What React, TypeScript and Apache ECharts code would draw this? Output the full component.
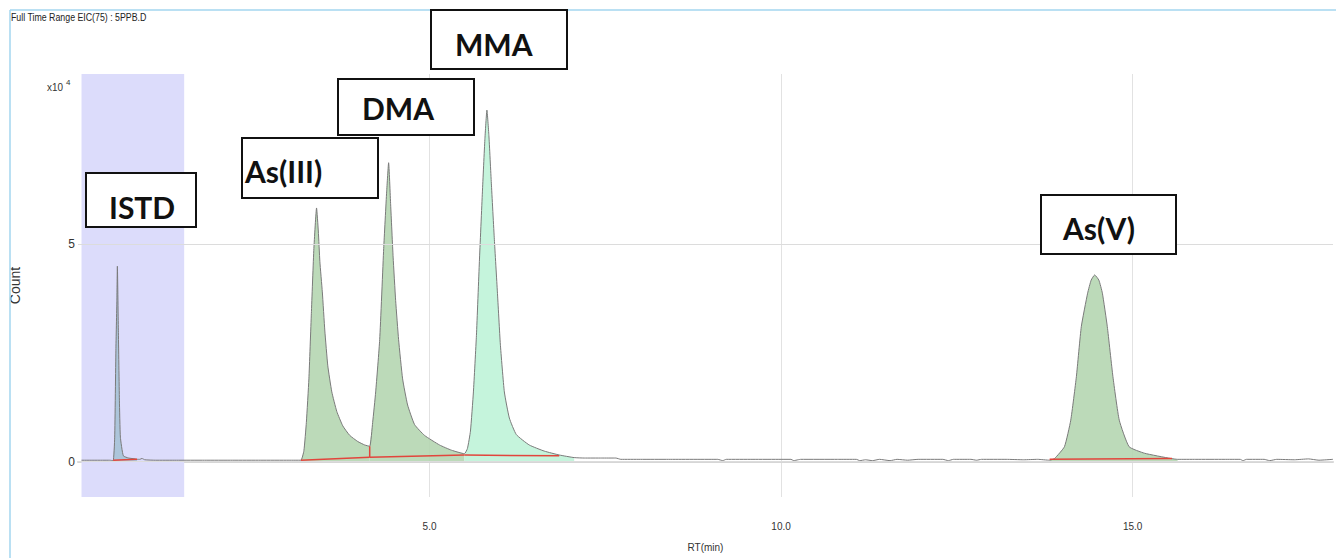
import React, { useEffect, useRef } from 'react';
import * as echarts from 'echarts';

type P = [number, number];

// Chromatogram trace segments: [RT (min), Count (x10^4)]
const traceLead: P[] = [[0.05, 0.03], [0.2, 0.03], [0.35, 0.03], [0.45, 0.03]];
const istdPeak: P[] = [
  [0.5, 0.02], [0.522, 0.56], [0.539, 2.56], [0.553, 3.71], [0.56, 4.49], [0.574, 3.02],
  [0.589, 1.41], [0.603, 0.56], [0.645, 0.13], [0.72, 0.08], [0.816, 0.06], [0.84, 0.05],
];
const traceGap: P[] = [
  [0.88, 0.05], [0.91, 0.07], [0.95, 0.04], [1.1, 0.03], [1.4, 0.03], [1.8, 0.03],
  [2.2, 0.03], [2.6, 0.03], [3.0, 0.03],
];
const as3Peak: P[] = [
  [3.17, 0.03], [3.213, 0.25], [3.248, 0.9], [3.284, 1.9], [3.319, 3.4], [3.355, 4.9],
  [3.393, 5.83], [3.418, 5.3], [3.44, 4.6], [3.475, 3.9], [3.511, 3.0], [3.553, 2.2],
  [3.61, 1.6], [3.681, 1.15], [3.766, 0.82], [3.865, 0.6], [3.979, 0.46], [4.078, 0.38],
  [4.149, 0.35],
];
const dmaPeak: P[] = [
  [4.149, 0.35], [4.191, 0.9], [4.234, 1.6], [4.291, 2.8], [4.348, 4.9], [4.39, 6.2],
  [4.418, 6.87], [4.447, 5.9], [4.482, 4.7], [4.518, 3.7], [4.56, 2.8], [4.617, 1.9],
  [4.688, 1.3], [4.787, 0.85], [4.929, 0.6], [5.142, 0.38], [5.312, 0.26], [5.496, 0.18],
];
const mmaPeak: P[] = [
  [5.496, 0.18], [5.539, 0.3], [5.582, 0.7], [5.624, 1.6], [5.667, 2.9], [5.709, 4.6],
  [5.752, 6.2], [5.787, 7.4], [5.816, 8.08], [5.844, 7.5], [5.879, 6.4], [5.922, 5.1],
  [5.965, 3.9], [6.007, 2.7], [6.064, 1.6], [6.135, 1.0], [6.234, 0.62], [6.418, 0.38],
  [6.631, 0.24], [6.844, 0.15], [7.057, 0.09],
];
const traceMid: P[] = [
  [7.2, 0.08], [7.45, 0.08], [7.65, 0.08], [7.72, 0.05], [8.0, 0.05], [8.4, 0.05],
  [9.1, 0.05], [9.17, 0.02], [9.22, 0.05], [9.6, 0.05], [10.0, 0.05], [10.14, 0.05],
  [10.18, 0.02], [10.24, 0.04], [10.28, 0.05], [10.8, 0.05], [11.07, 0.05], [11.12, 0.02],
  [11.2, 0.04], [11.3, 0.02], [11.4, 0.05], [11.55, 0.02], [11.65, 0.05], [11.8, 0.03],
  [11.95, 0.05], [12.3, 0.05], [12.38, 0.02], [12.45, 0.05], [12.7, 0.05], [12.78, 0.03],
  [12.85, 0.05], [13.2, 0.05], [13.45, 0.04], [13.65, 0.05],
];
const as5Peak: P[] = [
  [13.82, 0.03], [13.89, 0.07], [14.03, 0.34], [14.12, 0.95], [14.2, 1.95], [14.27, 3.1],
  [14.36, 3.87], [14.41, 4.17], [14.46, 4.29], [14.52, 4.17], [14.57, 3.87], [14.64, 3.1],
  [14.72, 1.95], [14.81, 0.95], [14.95, 0.34], [15.17, 0.19], [15.54, 0.07], [15.64, 0.05],
];
const traceTail: P[] = [
  [15.9, 0.05], [16.3, 0.05], [16.53, 0.05], [16.57, 0.02], [16.62, 0.05], [16.87, 0.05],
  [16.95, 0.02], [17.05, 0.05], [17.3, 0.04], [17.5, 0.06], [17.65, 0.03], [17.85, 0.05],
];

// Integration baselines (red)
const istdBase: P[] = [[0.5, 0.03], [0.84, 0.05]];
const as3Base: P[] = [[3.17, 0.03], [4.149, 0.1]];
const as3Split: P[] = [[4.149, 0.1], [4.149, 0.35]];
const dmaBase: P[] = [[4.149, 0.1], [5.496, 0.15]];
const mmaBase: P[] = [[5.496, 0.15], [6.844, 0.13]];
const as5Base: P[] = [[13.82, 0.05], [15.56, 0.07]];

const istdWindow: [number, number] = [0.05, 1.51];
const xTickLabels = [5, 10, 15];
const yTickLabels = [0, 5];
const peakNames = ['ISTD', 'As(III)', 'DMA', 'MMA', 'As(V)'];

const SANS = "'Liberation Sans', Arial, sans-serif";

export default function App() {
  const ref = useRef<HTMLDivElement>(null);

  useEffect(() => {
    if (!ref.current) return;
    const chart = echarts.init(ref.current, undefined, { renderer: 'svg' });

    const trace: P[] = [
      ...traceLead, ...istdPeak, ...traceGap, ...as3Peak, ...dmaPeak.slice(1),
      ...mmaPeak.slice(1), ...traceMid, ...as5Peak, ...traceTail,
    ];

    const fill = (data: P[], color: string) => ({
      type: 'line',
      data,
      showSymbol: false,
      smooth: 0.15,
      silent: true,
      z: 2,
      lineStyle: { width: 0, opacity: 0 },
      areaStyle: { color, opacity: 0.9 },
    });
    const red = (data: P[]) => ({
      type: 'line',
      data,
      showSymbol: false,
      silent: true,
      z: 5,
      lineStyle: { color: '#e2453c', width: 1.5 },
    });

    const boxes = [
      { x: 86, y: 173, w: 110, h: 54, tx: 109, ty: 207 },
      { x: 242, y: 138, w: 136, h: 60, tx: 245, ty: 171 },
      { x: 338, y: 79, w: 136, h: 56, tx: 362, ty: 108 },
      { x: 431, y: 10, w: 136, h: 59, tx: 455, ty: 44 },
      { x: 1041, y: 195, w: 135, h: 59, tx: 1063, ty: 228 },
    ];

    const graphic: any[] = [
      { type: 'line', z: 100, shape: { x1: 10, y1: 10, x2: 1336, y2: 10 }, style: { stroke: '#a3d6ef', lineWidth: 1.5 }, silent: true },
      { type: 'line', z: 100, shape: { x1: 10, y1: 10, x2: 10, y2: 558 }, style: { stroke: '#a3d6ef', lineWidth: 1.5 }, silent: true },
      {
        type: 'text', x: 11, y: 17, scaleX: 0.8, z: 100,
        style: { text: 'Full Time Range EIC(75) : 5PPB.D', font: `11px ${SANS}`, fill: '#222', verticalAlign: 'middle' },
      },
      {
        type: 'text', x: 47, y: 87, scaleX: 0.9, z: 100,
        style: { text: 'x10', font: `11px ${SANS}`, fill: '#333', verticalAlign: 'middle' },
      },
      {
        type: 'text', x: 66, y: 82, z: 100,
        style: { text: '4', font: `8px ${SANS}`, fill: '#333', verticalAlign: 'middle' },
      },
      ...boxes.map((b, i) => ({
        type: 'group',
        z: 100,
        children: [
          { type: 'rect', z: 100, shape: { x: b.x, y: b.y, width: b.w, height: b.h }, style: { fill: '#fff', stroke: '#111', lineWidth: 2 } },
          {
            type: 'text', z: 101, x: b.tx, y: b.ty,
            style: { text: peakNames[i], font: "bold 30px Lato, 'Noto Sans', sans-serif", fill: '#111', verticalAlign: 'middle' },
          },
        ],
      })),
    ];

    chart.setOption({
      animation: false,
      backgroundColor: '#ffffff',
      grid: { left: 77.5, right: 0, top: 74, bottom: 61, containLabel: false },
      xAxis: {
        type: 'value',
        min: 0,
        max: 17.85,
        interval: 5,
        name: 'RT(min)',
        nameLocation: 'middle',
        nameGap: 45,
        nameTextStyle: { fontFamily: SANS, fontSize: 10, color: '#333' },
        axisLine: { show: true, lineStyle: { color: '#d6d6d6', width: 2 } },
        axisTick: { show: false },
        axisLabel: {
          margin: 24,
          fontFamily: SANS,
          fontSize: 10,
          color: '#333',
          formatter: (v: number) => (xTickLabels.includes(Math.round(v * 100) / 100) ? v.toFixed(1) : ''),
        },
        splitLine: { show: true, showMinLine: false, showMaxLine: false, lineStyle: { color: '#e2e2e2', width: 1 } },
      },
      yAxis: {
        type: 'value',
        min: -0.816,
        max: 8.91,
        name: 'Count',
        nameLocation: 'middle',
        nameRotate: 90,
        nameGap: 56,
        nameTextStyle: { fontFamily: SANS, fontSize: 14, color: '#333' },
        axisLine: { show: false },
        axisTick: { show: false },
        axisLabel: {
          customValues: yTickLabels,
          margin: 3,
          fontFamily: SANS,
          fontSize: 12,
          color: '#333',
          formatter: (v: number) => String(v),
        },
        splitLine: { show: false },
      },
      graphic,
      series: [
        {
          type: 'line',
          data: [],
          silent: true,
          z: 1,
          markArea: {
            silent: true,
            itemStyle: { color: '#dcdcfb', opacity: 1 },
            data: [[{ xAxis: istdWindow[0] }, { xAxis: istdWindow[1] }]],
          },
        },
        fill(istdPeak, '#a6c2d6'),
        fill(as3Peak, '#b5d6b1'),
        fill(dmaPeak, '#b5d6b1'),
        fill(mmaPeak, '#bff3d8'),
        fill(as5Peak, '#b5d6b1'),
        {
          type: 'line',
          data: [],
          silent: true,
          z: 3,
          markLine: {
            silent: true,
            symbol: 'none',
            label: { show: false },
            lineStyle: { color: '#dcdcdc', type: 'solid', width: 1 },
            data: [{ yAxis: 5 }, { yAxis: 0 }],
          },
        },
        {
          type: 'line',
          data: trace,
          showSymbol: false,
          smooth: 0.15,
          silent: true,
          z: 4,
          lineStyle: { color: '#7a7a7a', width: 1 },
        },
        red(istdBase),
        red(as3Base),
        red(as3Split),
        red(dmaBase),
        red(mmaBase),
        red(as5Base),
      ],
    });

    return () => chart.dispose();
  }, []);

  return (
    <div
      ref={ref}
      style={{ position: 'fixed', left: 0, top: 0, width: 1336, height: 558, background: '#fff' }}
    />
  );
}
